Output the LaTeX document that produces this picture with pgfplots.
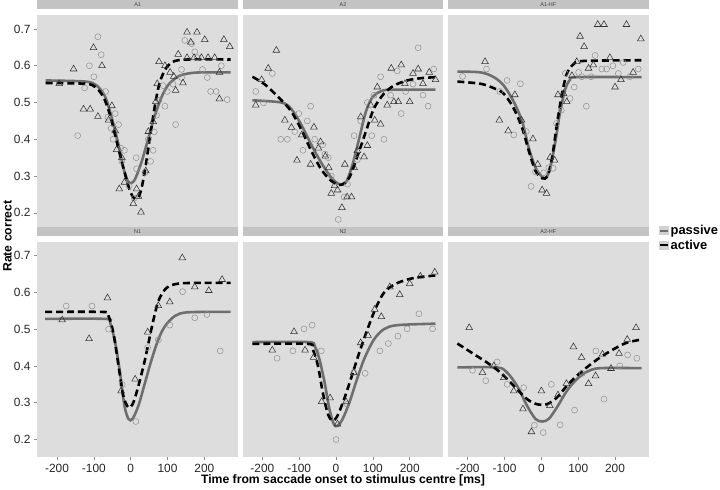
\documentclass[border=0pt]{standalone}
\usepackage{fontspec}
\setmainfont{Liberation Sans}
\usepackage{pgfplots}
\pgfplotsset{compat=1.18}
\usepgfplotslibrary{groupplots}
\definecolor{panelbg}{HTML}{DDDDDD}
\definecolor{stripbg}{HTML}{C3C3C3}
\definecolor{passline}{HTML}{6E6E6E}
\definecolor{passpt}{HTML}{8E8E8E}
\definecolor{actpt}{HTML}{333333}

\pgfplotsset{
  facet/.style={
    width=202pt, height=216.5pt, scale only axis,
    xmin=-253, xmax=291, ymin=0.153, ymax=0.737,
    axis background/.style={fill=panelbg},
    axis line style={draw=none},
    xtick={-200,-100,0,100,200}, ytick={0.2,0.3,0.4,0.5,0.6,0.7},
    y tick label style={/pgf/number format/.cd, fixed, fixed zerofill, precision=1},
    /pgf/number format/assume math mode=true,
    tick align=outside, major tick length=3.5pt,
    tick style={color=black!45, line width=0.6pt},
    tick label style={font=\fontsize{12}{12}\selectfont, text=black!85},
    xtick pos=bottom, ytick pos=left,
    title style={at={(0.5,1)}, anchor=south, yshift=0pt, fill=stripbg,
      minimum width=202pt, minimum height=9.5pt, inner sep=0pt, outer sep=0pt,
      font=\fontsize{5.5}{5.5}\selectfont, text=black!75},
  },
  passpts/.style={forget plot, only marks, mark=o, mark size=3pt, color=passpt, mark options={line width=0.5pt}},
  actpts/.style={forget plot, only marks, mark=triangle, mark size=3.9pt, color=actpt, mark options={line width=0.55pt}},
  passfit/.style={forget plot, no marks, smooth, color=passline, line width=2.6pt},
  actfit/.style={forget plot, no marks, smooth, color=black, line width=2.6pt, dash pattern=on 7pt off 4pt},
}

\begin{document}
\begin{tikzpicture}
\begin{groupplot}[group style={group size=3 by 2, horizontal sep=5pt, vertical sep=12pt}, facet]

% ---------- A1
\nextgroupplot[title={A1}, xmajorticks=false]
\addplot[passpts] coordinates {(-144,0.41) (-89,0.679) (-80,0.63) (-112,0.60) (-100,0.57) (-125,0.54) (-68,0.53) (-62,0.46) (-42,0.47) (-33,0.44) (-53,0.43) (-48,0.40) (-27,0.376) (-17,0.37) (-24,0.34) (16,0.32) (39,0.31) (10,0.24) (-4,0.273) (15,0.35) (54,0.34) (61,0.37) (48,0.40) (64,0.42) (70,0.465) (93,0.49) (77,0.506) (122,0.44) (99,0.53) (88,0.546) (138,0.59) (147,0.669) (165,0.66) (174,0.638) (181,0.622) (195,0.59) (208,0.568) (217,0.53) (232,0.53) (246,0.60) (262,0.508) (138,0.568) (115,0.55)};
\addplot[actpts] coordinates {(-194,0.551) (-155,0.591) (-101,0.649) (-78,0.60) (-128,0.482) (-110,0.482) (-89,0.462) (-51,0.491) (-60,0.452) (-42,0.423) (-38,0.372) (-24,0.35) (-31,0.265) (-17,0.283) (16,0.265) (7,0.225) (28,0.202) (21,0.245) (41,0.314) (48,0.421) (61,0.448) (68,0.502) (72,0.551) (77,0.611) (93,0.60) (107,0.582) (117,0.571) (122,0.533) (142,0.553) (129,0.631) (153,0.691) (180,0.691) (201,0.671) (163,0.664) (153,0.622) (172,0.622) (192,0.622) (210,0.622) (228,0.622) (241,0.582) (253,0.671) (269,0.652) (241,0.51)};
\addplot[passfit] coordinates {(-231,0.56) (-123,0.557) (-92,0.546) (-69,0.515) (-51,0.457) (-33,0.385) (-20,0.323) (-8,0.287) (1,0.281) (12,0.292) (30,0.34) (48,0.403) (66,0.466) (84,0.515) (102,0.548) (129,0.571) (156,0.579) (192,0.582) (271,0.582)};
\addplot[actfit] coordinates {(-231,0.553) (-123,0.551) (-96,0.542) (-74,0.515) (-56,0.466) (-38,0.394) (-20,0.323) (-2,0.26) (12,0.238) (25,0.251) (37,0.305) (52,0.403) (66,0.493) (79,0.555) (97,0.595) (120,0.613) (156,0.617) (271,0.617)};

% ---------- A2
\nextgroupplot[title={A2}, xmajorticks=false, ymajorticks=false]
\addplot[passpts] coordinates {(-218,0.530) (-197,0.499) (-173,0.579) (-150,0.40) (-132,0.40) (-112,0.421) (-101,0.47) (-78,0.45) (-90,0.37) (-69,0.49) (-58,0.40) (-36,0.385) (-30,0.36) (-21,0.35) (-13,0.30) (31,0.278) (22,0.243) (6,0.182) (49,0.41) (67,0.45) (85,0.50) (103,0.52) (121,0.57) (97,0.41) (130,0.40) (148,0.52) (166,0.586) (177,0.47) (189,0.53) (209,0.55) (223,0.649) (236,0.52) (250,0.49) (265,0.591) (58,0.345)};
\addplot[actpts] coordinates {(-218,0.493) (-202,0.562) (-184,0.593) (-162,0.642) (-139,0.452) (-121,0.432) (-93,0.412) (-60,0.433) (-106,0.343) (-69,0.332) (-42,0.393) (-48,0.376) (-29,0.354) (-20,0.323) (-4,0.274) (-13,0.253) (4,0.262) (16,0.214) (30,0.243) (42,0.243) (24,0.332) (49,0.323) (58,0.369) (76,0.352) (85,0.383) (67,0.461) (94,0.493) (105,0.452) (121,0.441) (112,0.542) (139,0.493) (157,0.502) (169,0.502) (200,0.502) (150,0.593) (177,0.602) (187,0.551) (209,0.579) (223,0.591) (236,0.551) (253,0.582) (270,0.562)};
\addplot[passfit] coordinates {(-227,0.506) (-148,0.50) (-121,0.482) (-94,0.439) (-67,0.385) (-40,0.336) (-13,0.296) (9,0.278) (27,0.283) (45,0.332) (63,0.403) (81,0.475) (99,0.515) (121,0.53) (148,0.535) (270,0.535)};
\addplot[actfit] coordinates {(-227,0.57) (-193,0.549) (-148,0.506) (-121,0.475) (-94,0.426) (-67,0.368) (-40,0.318) (-13,0.287) (13,0.276) (36,0.296) (58,0.354) (81,0.421) (103,0.484) (130,0.524) (157,0.546) (193,0.56) (229,0.566) (270,0.569)};

% ---------- A1-HF
\nextgroupplot[title={A1-HF}, xmajorticks=false, ymajorticks=false,
  legend style={at={(1.05,-0.037)}, anchor=west, draw=none, fill=none,
    font=\bfseries\fontsize{13}{13}\selectfont, inner sep=0pt, row sep=0pt,
    cells={anchor=west}},
  legend image code/.code={\fill[black!18] (0pt,-3.5pt) rectangle (8pt,3.5pt);
    \draw[#1,mark repeat=2,mark phase=2] plot coordinates {(0pt,0pt) (4pt,0pt) (8pt,0pt)};}]
\addplot[passpts] coordinates {(-214,0.571) (-149,0.591) (-93,0.56) (-57,0.551) (-113,0.53) (-41,0.421) (-75,0.412) (-16,0.311) (-28,0.272) (6,0.309) (20,0.323) (32,0.321) (41,0.443) (54,0.479) (65,0.579) (78,0.511) (89,0.542) (101,0.582) (110,0.57) (122,0.49) (135,0.57) (146,0.628) (164,0.591) (177,0.591) (194,0.60) (209,0.579) (222,0.609) (240,0.57) (263,0.591)};
\addplot[actpts] coordinates {(-153,0.611) (-72,0.521) (-54,0.452) (-114,0.452) (-90,0.423) (-23,0.401) (-10,0.332) (2,0.262) (14,0.253) (24,0.351) (36,0.343) (45,0.521) (69,0.502) (60,0.524) (83,0.573) (96,0.611) (116,0.652) (105,0.68) (128,0.593) (141,0.602) (153,0.712) (170,0.712) (186,0.622) (200,0.542) (216,0.562) (231,0.712) (249,0.582) (270,0.673)};
\addplot[passfit] coordinates {(-228,0.584) (-165,0.582) (-129,0.569) (-102,0.546) (-75,0.502) (-52,0.448) (-34,0.376) (-16,0.323) (2,0.298) (14,0.296) (26,0.332) (38,0.394) (51,0.475) (65,0.537) (78,0.562) (96,0.569) (272,0.569)};
\addplot[actfit] coordinates {(-228,0.557) (-165,0.551) (-129,0.539) (-102,0.524) (-75,0.484) (-52,0.43) (-34,0.368) (-16,0.314) (2,0.294) (17,0.30) (29,0.35) (42,0.439) (56,0.524) (69,0.578) (87,0.604) (114,0.613) (272,0.615)};
\addlegendimage{no marks, color=passline, line width=2pt, mark=o, mark size=2.2pt, mark options={solid, line width=0.5pt, draw=passpt}}
\addlegendentry{passive}
\addlegendimage{no marks, color=black, line width=2pt, mark=triangle, mark size=2.6pt, mark options={solid, line width=0.5pt, draw=actpt}}
\addlegendentry{active}

% ---------- N1
\nextgroupplot[title={N1}]
\addplot[passpts] coordinates {(-175,0.563) (-105,0.563) (-60,0.50) (-23,0.35) (14,0.249) (46,0.45) (75,0.471) (106,0.511) (141,0.602) (174,0.531) (207,0.54) (243,0.441)};
\addplot[actpts] coordinates {(-186,0.525) (-113,0.474) (-63,0.585) (-26,0.332) (12,0.364) (46,0.492) (75,0.564) (106,0.574) (140,0.694) (174,0.615) (212,0.605) (248,0.635)};
\addplot[passfit] coordinates {(-232,0.528) (-69,0.528) (-56,0.518) (-42,0.463) (-29,0.382) (-17,0.292) (-6,0.256) (5,0.256) (21,0.292) (39,0.355) (57,0.418) (75,0.472) (93,0.508) (120,0.536) (156,0.546) (271,0.547)};
\addplot[actfit] coordinates {(-232,0.547) (-78,0.547) (-62,0.54) (-47,0.49) (-33,0.40) (-20,0.319) (-6,0.287) (7,0.30) (21,0.346) (39,0.418) (57,0.504) (75,0.576) (97,0.612) (129,0.624) (192,0.626) (271,0.626)};

% ---------- N2
\nextgroupplot[title={N2}, ymajorticks=false]
\addplot[passpts] coordinates {(-160,0.421) (-117,0.441) (-87,0.501) (-65,0.511) (-40,0.441) (0,0.20) (30,0.296) (48,0.382) (79,0.38) (119,0.441) (142,0.461) (168,0.481) (193,0.501) (225,0.542) (262,0.501)};
\addplot[actpts] coordinates {(-173,0.443) (-114,0.493) (-84,0.443) (-61,0.423) (-39,0.303) (-16,0.313) (4,0.242) (27,0.303) (48,0.382) (67,0.463) (87,0.483) (105,0.554) (123,0.534) (146,0.615) (173,0.594) (200,0.624) (229,0.644) (268,0.655)};
\addplot[passfit] coordinates {(-227,0.465) (-76,0.465) (-58,0.454) (-45,0.418) (-31,0.355) (-18,0.283) (-6,0.242) (4,0.237) (18,0.256) (36,0.30) (54,0.355) (76,0.418) (103,0.472) (130,0.50) (166,0.511) (270,0.515)};
\addplot[actfit] coordinates {(-227,0.46) (-76,0.46) (-63,0.445) (-49,0.40) (-36,0.328) (-22,0.269) (-9,0.251) (4,0.265) (22,0.31) (40,0.364) (63,0.436) (85,0.499) (108,0.558) (130,0.599) (157,0.621) (193,0.635) (229,0.642) (270,0.646)};

% ---------- A2-HF
\nextgroupplot[title={A2-HF}, ymajorticks=false]
\addplot[passpts] coordinates {(-187,0.388) (-151,0.36) (-120,0.411) (-93,0.35) (-48,0.341) (-19,0.239) (5,0.219) (27,0.35) (51,0.24) (90,0.28) (111,0.38) (148,0.441) (170,0.31) (213,0.40) (234,0.43) (259,0.421)};
\addplot[actpts] coordinates {(-196,0.504) (-160,0.382) (-129,0.40) (-102,0.368) (-75,0.332) (-50,0.283) (-27,0.221) (0,0.332) (23,0.292) (45,0.321) (68,0.352) (87,0.452) (109,0.423) (128,0.352) (147,0.373) (166,0.432) (189,0.393) (211,0.434) (233,0.472) (257,0.504)};
\addplot[passfit] coordinates {(-228,0.396) (-120,0.396) (-93,0.382) (-66,0.346) (-39,0.292) (-16,0.256) (2,0.249) (20,0.256) (42,0.287) (69,0.332) (96,0.364) (123,0.384) (159,0.394) (272,0.394)};
\addplot[actfit] coordinates {(-228,0.461) (-183,0.432) (-147,0.409) (-111,0.382) (-75,0.346) (-39,0.31) (-12,0.296) (15,0.296) (42,0.314) (69,0.346) (96,0.373) (123,0.396) (159,0.423) (195,0.445) (231,0.463) (272,0.472)};
\end{groupplot}

\node[anchor=base, font=\bfseries\fontsize{12.3}{12.3}\selectfont] at ([yshift=-27pt]group c2r2.south) {Time from saccade onset to stimulus centre [ms]};
\node[rotate=90, anchor=base, font=\bfseries\fontsize{12.3}{12.3}\selectfont] at ([xshift=-26pt,yshift=-6pt]group c1r1.south west) {Rate correct};
\path ([xshift=-35pt,yshift=9.5pt]group c1r1.north west) rectangle ([xshift=685pt,yshift=-474.5pt]group c1r1.north west);
\end{tikzpicture}
\end{document}
